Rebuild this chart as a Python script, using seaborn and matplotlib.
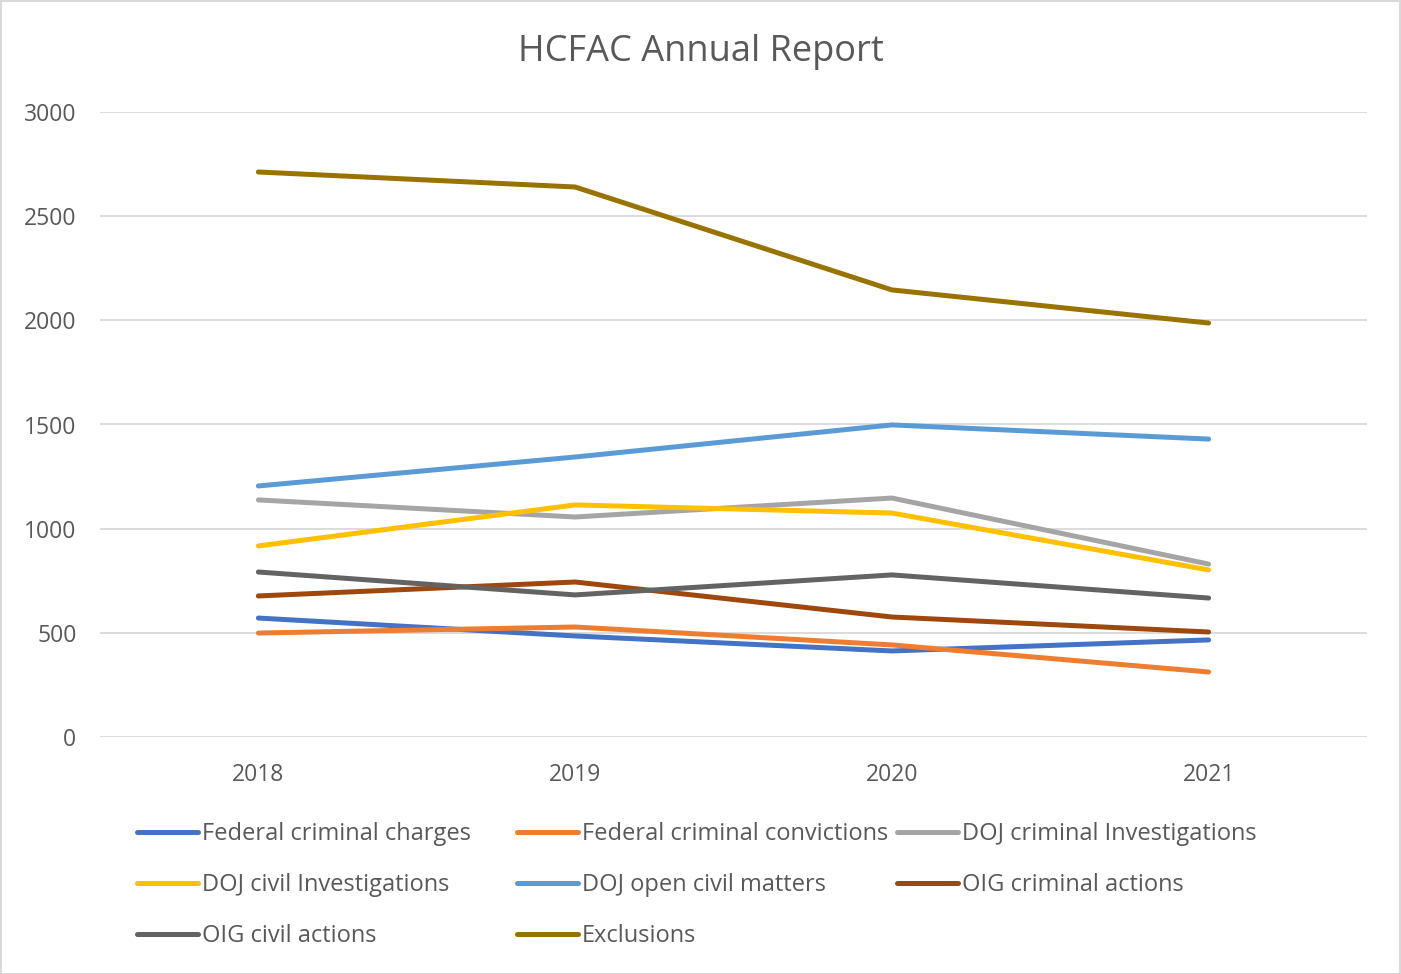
import matplotlib
matplotlib.use("Agg")
import matplotlib.pyplot as plt
import seaborn as sns
import pandas as pd
from matplotlib.patches import Rectangle
from matplotlib.lines import Line2D

years = ["2018", "2019", "2020", "2021"]
series_names = [
    "Federal criminal charges",
    "Federal criminal convictions",
    "DOJ criminal Investigations",
    "DOJ civil Investigations",
    "DOJ open civil matters",
    "OIG criminal actions",
    "OIG civil actions",
    "Exclusions",
]
federal_charges = [571, 485, 413, 466]
federal_convictions = [499, 528, 442, 312]
doj_criminal = [1138, 1056, 1147, 830]
doj_civil = [917, 1114, 1075, 802]
doj_open_civil = [1205, 1344, 1498, 1430]
oig_criminal = [677, 744, 576, 504]
oig_civil = [792, 682, 778, 667]
exclusions = [2712, 2640, 2146, 1987]

colors = ["#4472C4", "#ED7D31", "#A5A5A5", "#FFC000",
          "#5B9BD5", "#9E480E", "#636363", "#997300"]

values = [federal_charges, federal_convictions, doj_criminal, doj_civil,
          doj_open_civil, oig_criminal, oig_civil, exclusions]
rows = []
for name, vals in zip(series_names, values):
    for y, v in zip(years, vals):
        rows.append({"Year": y, "Value": v, "Series": name})
df = pd.DataFrame(rows)

sns.set_theme(style="white")
plt.rcParams['font.family'] = ['Open Sans', 'DejaVu Sans']

W, H = 1401, 974
fig = plt.figure(figsize=(W / 100, H / 100), dpi=100)
ax = fig.add_axes([100 / W, (H - 737) / H, 1267 / W, 625 / H])

sns.lineplot(data=df, x="Year", y="Value", hue="Series", hue_order=series_names,
             palette=colors, linewidth=3.6, ax=ax, legend=False,
             solid_capstyle="round", sort=False)

ax.set_xlim(-0.5, 3.5)
ax.set_ylim(0, 3000)
ax.set_yticks([0, 500, 1000, 1500, 2000, 2500, 3000])
ax.set_xlabel("")
ax.set_ylabel("")
ax.yaxis.grid(True, color="#D9D9D9", linewidth=1.3)
ax.set_axisbelow(True)
for s in ax.spines.values():
    s.set_visible(False)
ax.tick_params(axis="both", length=0, labelsize=16.5, colors="#595959")
ax.tick_params(axis="y", pad=17)
ax.tick_params(axis="x", pad=19)

fig.text(0.5, 1 - 52 / H, "HCFAC Annual Report", ha="center", va="center",
         fontsize=26, color="#595959")

# legend laid out row-wise in three columns
col_x = [137, 517, 897]
for ci, cx in enumerate(col_x):
    idx = list(range(ci, len(series_names), 3))
    hs = [Line2D([0], [0], color=colors[i], linewidth=3.6, solid_capstyle="round")
          for i in idx]
    labs = [series_names[i] for i in idx]
    leg = fig.legend(hs, labs, loc="upper left",
                     bbox_to_anchor=(cx / W, 1 - 822 / H),
                     frameon=False, fontsize=17, handlelength=2.6,
                     handletextpad=0.15, borderpad=0, borderaxespad=0,
                     labelspacing=1.15)
    for t in leg.get_texts():
        t.set_color("#595959")

fig.patches.append(Rectangle((0.5 / W, 0.5 / H), 1 - 1.5 / W, 1 - 1.5 / H,
                             transform=fig.transFigure, fill=False,
                             edgecolor="#D9D9D9", linewidth=1.5))

fig.savefig("out.png", dpi=100)
